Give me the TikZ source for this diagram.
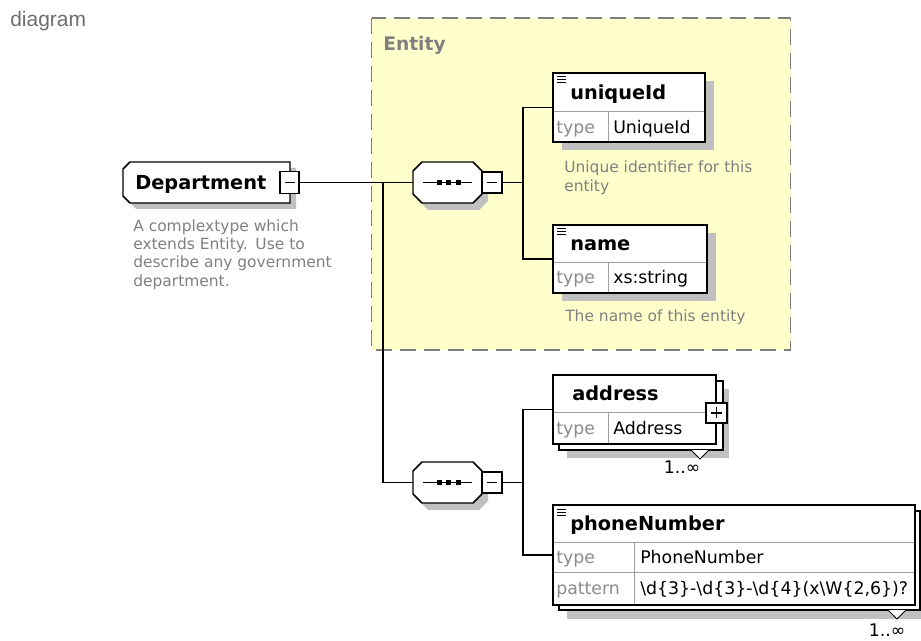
\documentclass[tikz,border=0pt]{standalone}
\usepackage{fontspec}
\setmainfont{DejaVu Sans}
\newfontfamily\arialfont{Liberation Sans}
\definecolor{entyellow}{RGB}{255,255,204}
\definecolor{shadowgray}{RGB}{192,192,192}
\definecolor{docgray}{RGB}{128,128,128}
\definecolor{typegray}{RGB}{140,140,140}
\definecolor{divgray}{RGB}{160,160,160}
\definecolor{dashgray}{RGB}{128,128,128}
\definecolor{entgray}{RGB}{128,128,128}
\definecolor{diagramgray}{RGB}{110,110,110}
\begin{document}
\begin{tikzpicture}[x=0.75pt,y=-0.75pt,
  outline/.style={draw=black,line width=1.1pt,fill=white},
  conn/.style={draw=black,line width=1.1pt},
  shade/.style={fill=shadowgray,draw=none},
  divline/.style={draw=divgray,line width=0.75pt},
  elem/.style={outline,rectangle,inner sep=0pt},
  anchorbox/.style={rectangle,draw=none,inner sep=0pt},
  hdr/.style={font=\fontsize{14.5}{17}\selectfont\bfseries,anchor=base west,inner sep=0pt},
  rowtxt/.style={font=\fontsize{13}{15}\selectfont,anchor=base west,inner sep=0pt},
  typelbl/.style={rowtxt,text=typegray},
  doctxt/.style={font=\fontsize{11.6}{14}\selectfont,text=docgray,anchor=base west,inner sep=0pt},
  iconline/.style={draw=black,line width=0.75pt},
  minusbox/.style={outline,rectangle,inner sep=0pt,line width=0.9pt},
  signline/.style={draw=black,line width=0.9pt},
  dotsq/.style={fill=black},
]
\useasboundingbox (0,0) rectangle (921,641);

% title
\node[font=\arialfont\fontsize{15.75}{18}\selectfont,text=diagramgray,anchor=base west,inner sep=0pt] (title) at (10,27) {diagram};

% Entity group
\draw[fill=entyellow,draw=dashgray,line width=1.1pt,dash pattern=on 12pt off 6pt] (371.5,18) rectangle (790.5,350);
\node[font=\fontsize{14}{17}\selectfont\bfseries,text=entgray,anchor=base west,inner sep=0pt] (entl) at (383,51) {Entity};

% anchor nodes and junctions
\node[anchorbox,minimum width=51.75pt,minimum height=30.75pt] (s1) at (447.5,182.5) {};
\node[anchorbox,minimum width=51.75pt,minimum height=30.75pt] (s2) at (447.5,482.5) {};
\coordinate (j1) at (383,182.5);
\coordinate (j2) at (383,482.5);
\coordinate (t1) at (523,182.5);
\coordinate (ta) at (523,107.5);
\coordinate (tb) at (523,259);
\coordinate (t2) at (523,482.5);
\coordinate (tc) at (523,409.5);
\coordinate (td) at (523,555);

% Department
\fill[shade] (136,168) -- (296,168) -- (296,209) -- (136,209) -- (129,202) -- (129,175) -- cycle;
\draw[outline] (130,162) -- (290,162) -- (290,203) -- (130,203) -- (123,196) -- (123,169) -- cycle;
\node[hdr] (dep) at (135,190) {Department};
\node[minusbox,minimum width=14.25pt,minimum height=16.5pt] (dm) at (289.5,182.5) {};
\draw[signline] (284.5,182.5) -- (294.5,182.5);
\node[doctxt] (depd1) at (133,232) {A complextype which};
\node[doctxt] (depd2) at (133,250) {extends Entity.\enspace Use to};
\node[doctxt] (depd3) at (133,268) {describe any government};
\node[doctxt] (depd4) at (133,287) {department.};

% connectors
\draw[conn] (dm.east) -- (s1.west);
\draw[conn] (j1) -- (j2) -- (s2.west);

% sequence 1
\fill[shade] (428,169) -- (479,169) -- (488,178) -- (488,201) -- (479,210) -- (428,210) -- (419,201) -- (419,178) -- cycle;
\draw[outline] (422,162) -- (473,162) -- (482,171) -- (482,194) -- (473,203) -- (422,203) -- (413,194) -- (413,171) -- cycle;
\draw[line width=0.9pt] (423,182.5) -- (472,182.5);
\fill[dotsq] (436.5,180) rectangle (441.5,185);
\fill[dotsq] (446,180) rectangle (451,185);
\fill[dotsq] (455.5,180) rectangle (460.5,185);
\node[minusbox,minimum width=15pt,minimum height=15.75pt] (s1m) at (492,182.5) {};
\draw[signline] (487,182.5) -- (497,182.5);
\draw[conn] (s1m.east) -- (t1);

% sequence 2
\fill[shade] (428,469) -- (479,469) -- (488,478) -- (488,501) -- (479,510) -- (428,510) -- (419,501) -- (419,478) -- cycle;
\draw[outline] (422,462) -- (473,462) -- (482,471) -- (482,494) -- (473,503) -- (422,503) -- (413,494) -- (413,471) -- cycle;
\draw[line width=0.9pt] (423,482.5) -- (472,482.5);
\fill[dotsq] (436.5,480) rectangle (441.5,485);
\fill[dotsq] (446,480) rectangle (451,485);
\fill[dotsq] (455.5,480) rectangle (460.5,485);
\node[minusbox,minimum width=15pt,minimum height=15.75pt] (s2m) at (492,482.5) {};
\draw[signline] (487,482.5) -- (497,482.5);

% uniqueId
\fill[shade] (562,81) rectangle (714,150);
\node[elem,minimum width=114pt,minimum height=51.75pt] (uid) at (629,107.5) {};
\draw[divline] (554,112) -- (704,112) (608,112) -- (608,141);
\draw[iconline] (557,77) -- (566,77) (557,80) -- (566,80) (557,83) -- (566,83);
\node[hdr] (uidh) at (570,100) {uniqueId};
\node[typelbl] (uidt) at (556,134) {type};
\node[rowtxt] (uidv) at (613,134) {UniqueId};
\node[doctxt] (uidd1) at (564,173) {Unique identifier for this};
\node[doctxt] (uidd2) at (564,192) {entity};

% name
\fill[shade] (562,233) rectangle (716,301);
\node[elem,minimum width=115.5pt,minimum height=51pt] (nam) at (630,259) {};
\draw[divline] (554,263) -- (706,263) (608,263) -- (608,292);
\draw[iconline] (557,229) -- (566,229) (557,232) -- (566,232) (557,235) -- (566,235);
\node[hdr] (namh) at (570,251) {name};
\node[typelbl] (namt) at (556,284) {type};
\node[rowtxt] (namv) at (613,284) {xs:string};
\node[doctxt] (namd) at (565,322) {The name of this entity};

\draw[conn] (uid.west) -- (ta) -- (tb) -- (nam.west);

% address
\fill[shade] (567,389) rectangle (729,458);
\draw[outline] (559,381) rectangle (723,450);
\node[elem,minimum width=122.25pt,minimum height=51.75pt] (addr) at (634.5,409.5) {};
\draw[divline] (554,413) -- (715,413) (608,413) -- (608,443);
\node[hdr] (addrh) at (572,401) {address};
\node[typelbl] (addrt) at (556,435) {type};
\node[rowtxt] (addrv) at (613,435) {Address};
\node[minusbox,minimum width=15.75pt,minimum height=15pt] (addrp) at (716.5,413) {};
\draw[signline] (711,413) -- (722,413) (716.5,407.5) -- (716.5,418.5);
\draw[fill=white,line width=0.75pt] (691,450) -- (700,459) -- (709,450);
\node[rowtxt,anchor=center] (addrm) at (682,467) {1..∞};

% phoneNumber
\fill[shade] (567,519) rectangle (921,619);
\draw[outline] (559,511) rectangle (920,610);
\node[elem,minimum width=271.5pt,minimum height=75pt] (phone) at (734,555) {};
\draw[divline] (554,542) -- (914,542) (554,572) -- (914,572) (634,542) -- (634,604);
\draw[iconline] (557,509) -- (566,509) (557,512) -- (566,512) (557,515) -- (566,515);
\node[hdr] (phoneh) at (570,530) {phoneNumber};
\node[typelbl] (phonet) at (556,563) {type};
\node[rowtxt] (phonev) at (640,563) {PhoneNumber};
\node[typelbl] (phonep) at (556,594) {pattern};
\node[rowtxt] (phonepv) at (640,594) {\textbackslash d\{3\}-\textbackslash d\{3\}-\textbackslash d\{4\}(x\textbackslash W\{2,6\})?};
\draw[fill=white,line width=0.75pt] (888,610) -- (897,619) -- (906,610);
\node[rowtxt,anchor=center] (phonem) at (887,630) {1..∞};

% connectors of the second sequence
\draw[conn] (s2m.east) -- (t2);
\draw[conn] (addr.west) -- (tc) -- (td) -- (phone.west);
\end{tikzpicture}
\end{document}
